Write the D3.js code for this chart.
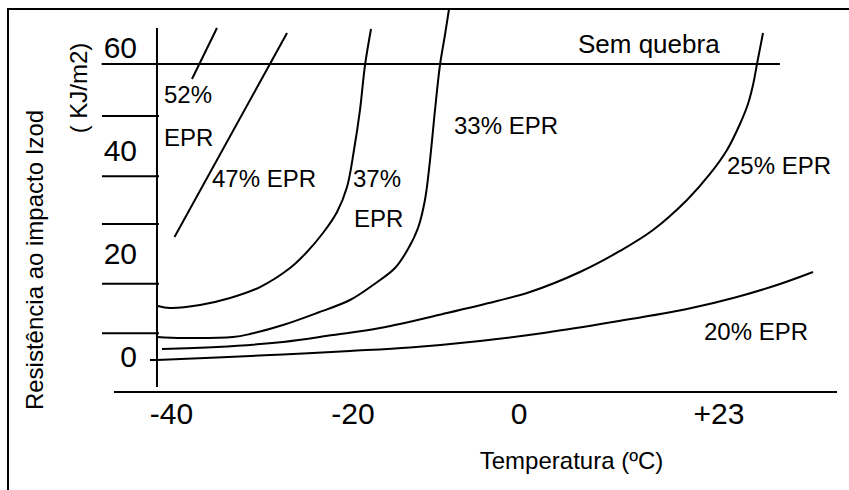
<!DOCTYPE html>
<html><head><meta charset="utf-8">
<script src="https://cdn.jsdelivr.net/npm/d3@7"></script>
<style>
html,body{margin:0;padding:0;background:#fff;}
svg{display:block;}
text{font-family:"Liberation Sans",Arial,Helvetica,sans-serif;fill:#000;}
</style>
</head><body>
<svg id="chart" width="849" height="490"></svg>
<script>
// ---------- data (temperature ºC, impact resistance kJ/m2) ----------
const xTickValues = [-40, -20, 0, 23];
const xTickLabels = ["-40", "-20", "0", "+23"];
const yTickValues = [0, 20, 40, 60];
const yTickLabels = ["0", "20", "40", "60"];
const yMinorTicks = [5.2, 14.8, 26.4, 35.7, 47.4];

const breakLevel = 57.5;               // "Sem quebra" line
const breakTemps = [-47.7, 30.0];

const temp52 = [-37.74, -34.99];
const imp52  = [54.56, 64.47];

const temp47 = [-39.67, -27.27];
const imp47  = [23.88, 63.50];

const temp37 = [-41.49, -40.17, -36.86, -33.55, -30.25, -26.94, -25.18, -23.31, -21.76, -20.66, -19.88, -19.16, -18.55, -17.83];
const imp37  = [10.49, 10.10, 10.68, 12.04, 14.17, 17.86, 20.78, 24.66, 28.74, 33.59, 40.78, 48.54, 57.28, 64.27];

const temp33 = [-41.60, -38.73, -33.22, -31.35, -27.71, -23.97, -20.33, -17.59, -14.94, -13.37, -12.17, -11.33, -10.72, -10.12, -9.52, -8.92, -8.43];
const imp33  = [4.47, 4.27, 4.47, 5.05, 6.80, 9.13, 11.65, 14.56, 17.86, 21.55, 25.63, 31.07, 38.83, 48.54, 57.28, 63.11, 68.16];

const temp25 = [-41.05, -34.99, -27.71, -22.20, -16.75, -8.67, -2.65, 1.26, 7.01, 11.61, 15.41, 19.32, 21.96, 23.92, 25.41, 26.33, 26.91, 27.37, 28.06];
const imp25  = [2.14, 2.52, 3.50, 4.85, 6.21, 9.13, 11.46, 13.20, 17.09, 21.17, 25.24, 31.07, 36.12, 40.78, 45.83, 49.71, 53.40, 57.48, 63.50];

const temp20 = [-41.60, -34.99, -27.71, -20.33, -13.13, -4.70, 3.22, 10.81, 19.32, 25.07, 30.01, 33.81];
const imp20  = [0, 0.49, 1.07, 1.75, 2.43, 3.69, 5.34, 7.38, 9.90, 12.23, 14.76, 17.09];

const seriesNames = ["52% EPR", "47% EPR", "37% EPR", "33% EPR", "25% EPR", "20% EPR"];

// annotation anchors in data units (temperature, impact)
const annoText = ["52%", "EPR", "47% EPR", "37%", "EPR", "33% EPR", "25% EPR", "20% EPR", "Sem quebra"];
const annoTemp = [-40.83, -40.83, -35.54, -20.0, -19.88, -7.83, 23.92, 21.27, 6.78];
const annoImp  = [49.90, 41.55, 33.59, 33.59, 25.83, 43.88, 36.12, 3.88, 59.61];

// axis extents in data units
const yAxisTemp = -41.6, yAxisImp = [-5.24, 64.47];
const xAxisImp = -6.21, xAxisTemp = [-46.34, 36.57];

// ---------- drawing ----------
const svg = d3.select("#chart");
const x = d3.scaleLinear().domain(xTickValues).range([171.5, 353, 519, 719]);
const y = d3.scaleLinear().domain([0, 60]).range([360, 51]);

// outer frame
svg.append("rect").attr("x", 8).attr("y", 9).attr("width", 900).attr("height", 600)
  .attr("fill", "none").attr("stroke", "#000").attr("stroke-width", 2);

const g = svg.append("g");

// axes lines
g.append("line").attr("x1", x(yAxisTemp)).attr("x2", x(yAxisTemp))
  .attr("y1", y(yAxisImp[0])).attr("y2", y(yAxisImp[1]))
  .attr("stroke", "#000").attr("stroke-width", 2);
g.append("line").attr("x1", x(xAxisTemp[0])).attr("x2", x(xAxisTemp[1]))
  .attr("y1", y(xAxisImp)).attr("y2", y(xAxisImp))
  .attr("stroke", "#000").attr("stroke-width", 2);

// minor tick lines
g.selectAll(".minor").data(yMinorTicks).join("line")
  .attr("x1", x(yAxisTemp) - 55).attr("x2", x(yAxisTemp) + 2)
  .attr("y1", d => y(d)).attr("y2", d => y(d))
  .attr("stroke", "#000").attr("stroke-width", 2);
// zero tick
g.append("line").attr("x1", x(yAxisTemp) - 7).attr("x2", x(yAxisTemp))
  .attr("y1", y(0)).attr("y2", y(0)).attr("stroke", "#000").attr("stroke-width", 2);

// "Sem quebra" line
g.append("line").attr("x1", x(breakTemps[0])).attr("x2", x(breakTemps[1]))
  .attr("y1", y(breakLevel)).attr("y2", y(breakLevel))
  .attr("stroke", "#000").attr("stroke-width", 2);

// y tick labels
g.selectAll(".ylab").data(yTickValues).join("text")
  .attr("x", 137).attr("y", d => y(d) + 7)
  .attr("text-anchor", "end").attr("font-size", 30)
  .text((d, i) => yTickLabels[i]);

// x tick labels
g.selectAll(".xlab").data(xTickValues).join("text")
  .attr("x", d => x(d)).attr("y", 424)
  .attr("text-anchor", "middle").attr("font-size", 30)
  .text((d, i) => xTickLabels[i]);

// curves
const temps = [temp52, temp47, temp37, temp33, temp25, temp20];
const imps = [imp52, imp47, imp37, imp33, imp25, imp20];
const curveData = seriesNames.map((name, i) => ({
  name, pts: temps[i].map((t, j) => [t, imps[i][j]])
}));
const line = d3.line().x(d => x(d[0])).y(d => y(d[1]));
g.selectAll(".curve").data(curveData).join("path")
  .attr("d", d => line.curve(d.pts.length > 2 ? d3.curveCatmullRom.alpha(0.5) : d3.curveLinear)(d.pts))
  .attr("fill", "none").attr("stroke", "#000").attr("stroke-width", 2);

// annotations
g.selectAll(".anno").data(annoText).join("text")
  .attr("x", (d, i) => x(annoTemp[i])).attr("y", (d, i) => y(annoImp[i]))
  .attr("font-size", (d) => d === "Sem quebra" ? 26 : 24)
  .text(d => d);

// axis titles
svg.append("text").attr("transform", "translate(43,260) rotate(-90)")
  .attr("text-anchor", "middle").attr("font-size", 24)
  .text("Resistência ao impacto Izod");
svg.append("text").attr("transform", "translate(87,88) rotate(-90)")
  .attr("text-anchor", "middle").attr("font-size", 24)
  .text("( KJ/m2)");
svg.append("text").attr("x", 571.5).attr("y", 469)
  .attr("text-anchor", "middle").attr("font-size", 24)
  .text("Temperatura (ºC)");
</script>
</body></html>
